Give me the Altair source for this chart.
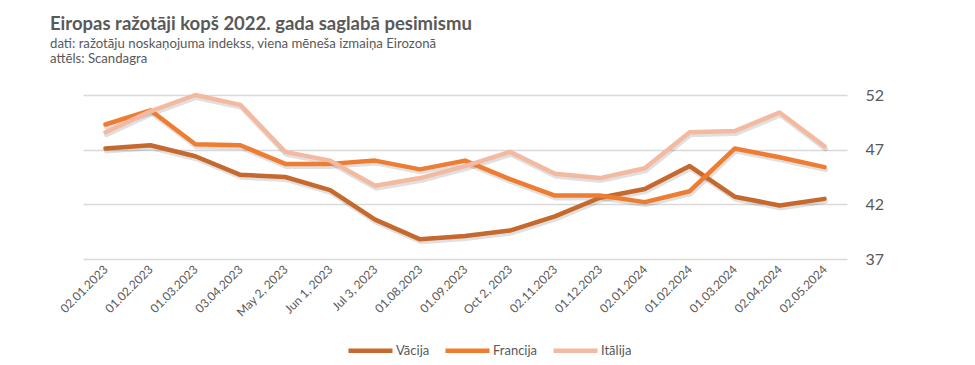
import altair as alt
import pandas as pd

dates = ["02.01.2023", "01.02.2023", "01.03.2023", "03.04.2023", "May 2, 2023",
         "Jun 1, 2023", "Jul 3, 2023", "01.08.2023", "01.09.2023", "Oct 2, 2023",
         "02.11.2023", "01.12.2023", "02.01.2024", "01.02.2024", "01.03.2024",
         "02.04.2024", "02.05.2024"]
vacija = [47.1, 47.4, 46.4, 44.7, 44.5, 43.3, 40.6, 38.8, 39.1, 39.6, 40.9,
          42.6, 43.4, 45.5, 42.7, 41.9, 42.5]
francija = [49.3, 50.6, 47.5, 47.4, 45.7, 45.7, 46.0, 45.2, 46.0, 44.3, 42.8,
            42.8, 42.2, 43.2, 47.1, 46.3, 45.4]
italija = [48.6, 50.5, 52.0, 51.1, 46.8, 46.0, 43.7, 44.4, 45.5, 46.8, 44.8,
           44.4, 45.3, 48.6, 48.7, 50.4, 47.3]
series = ["Vācija", "Francija", "Itālija"]
colors = ["#C5692C", "#EE7D31", "#F4B9A1"]

rows = []
for name, vals in zip(series, [vacija, francija, italija]):
    for d, v in zip(dates, vals):
        rows.append({"date": d, "country": name, "value": v})
df = pd.DataFrame(rows)

FONT = "Lato"
GREY = "#595959"

x = alt.X("date:O", sort=dates, title=None,
          scale=alt.Scale(type="point", padding=0.5),
          axis=alt.Axis(labelAngle=-45, labelAlign="right", labelBaseline="middle",
                        labelPadding=8, labelFontSize=12, labelColor=GREY,
                        labelFont=FONT, ticks=False, domain=False, grid=False,
                        labelOverlap=False))
y = alt.Y("value:Q", title=None,
          scale=alt.Scale(domain=[37, 52], nice=False, zero=False),
          axis=alt.Axis(orient="right", values=[37, 42, 47, 52], ticks=False,
                        domain=False, labelPadding=18, labelFontSize=16,
                        labelColor=GREY, labelFont=FONT, gridColor="#D9D9D9",
                        gridWidth=1.5))

shadow = alt.Chart(df).mark_line(strokeWidth=5, color="#000000", opacity=0.12,
                                 xOffset=1, yOffset=2.5, strokeCap="round",
                                 strokeJoin="round").encode(
    x=x, y=y, detail="country:N")

lines = alt.Chart(df).mark_line(strokeWidth=4.5, strokeCap="round",
                                strokeJoin="round").encode(
    x=x, y=y,
    color=alt.Color("country:N", sort=series,
                    scale=alt.Scale(domain=series, range=colors),
                    legend=alt.Legend(orient="none", legendX=263, legendY=231,
                                      direction="horizontal", title=None,
                                      symbolType="M-1,0H1", symbolSize=1936,
                                      symbolStrokeWidth=4.5, labelFontSize=13,
                                      labelColor=GREY, labelFont=FONT,
                                      labelOffset=1, columnPadding=6,
                                      padding=0)),
    order=alt.Order("country:N"))

chart = alt.layer(shadow, lines).properties(
    width=764, height=164,
    padding={"left": 75, "top": 87, "right": 120, "bottom": 98},
    autosize=alt.AutoSizeParams(type="none"),
    title=alt.TitleParams(
        text="Eiropas ražotāji kopš 2022. gada saglabā pesimismu",
        subtitle=["dati: ražotāju noskaņojuma indekss, viena mēneša izmaiņa Eirozonā",
                  "attēls: Scandagra"],
        anchor="start", frame="group", dx=-33, offset=22,
        font=FONT, fontSize=18.5, fontWeight="bold", color=GREY,
        subtitleFont=FONT, subtitleFontSize=13.2, subtitleColor=GREY,
        subtitlePadding=4, subtitleLineHeight=15),
).configure_view(stroke=None)

chart.save("out.html", embed_options={"renderer": "svg", "actions": False})
